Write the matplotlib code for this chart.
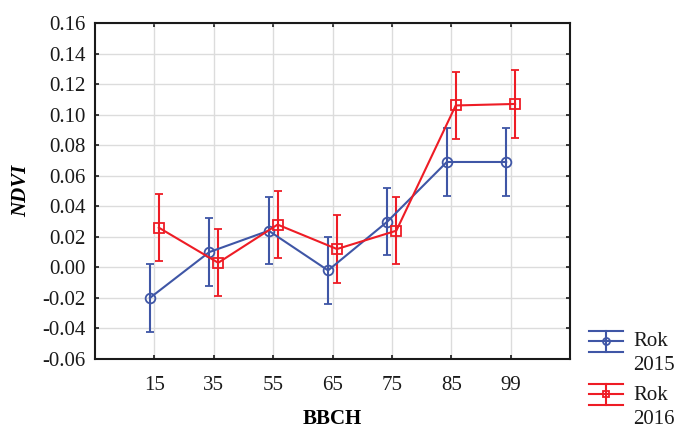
import matplotlib
matplotlib.use("Agg")
import matplotlib.pyplot as plt
from matplotlib.lines import Line2D
import numpy as np

plt.rcParams['font.family'] = ['Liberation Serif', 'DejaVu Serif']

categories = ["15", "35", "55", "65", "75", "85", "99"]
ndvi_2015 = [-0.020, 0.010, 0.024, -0.002, 0.030, 0.069, 0.069]
err_2015 = [0.022, 0.022, 0.022, 0.022, 0.022, 0.022, 0.022]
ndvi_2016 = [0.026, 0.003, 0.028, 0.012, 0.024, 0.106, 0.107]
err_2016 = [0.022, 0.022, 0.022, 0.022, 0.022, 0.022, 0.022]
series_labels = ["Rok\n2015", "Rok\n2016"]
y_ticks = [-0.06, -0.04, -0.02, 0.00, 0.02, 0.04, 0.06, 0.08, 0.10, 0.12, 0.14, 0.16]

blue = "#3f56a6"
red = "#ee1c25"

fig = plt.figure(figsize=(6.78, 4.29), dpi=100)
ax = fig.add_axes([95/678, 1-359/429, 475/678, 336/429])

x = np.arange(1, len(categories) + 1)
off = 0.075
ax.errorbar(x - off, ndvi_2015, yerr=err_2015, color=blue, lw=1.5, marker='o',
            ms=7, mfc='none', mec=blue, mew=1.3, capsize=3, capthick=1.5,
            elinewidth=1.5, zorder=3)
ax.errorbar(x + off, ndvi_2016, yerr=err_2016, color=red, lw=1.5, marker='s',
            ms=7, mfc='none', mec=red, mew=1.3, capsize=3, capthick=1.5,
            elinewidth=1.5, zorder=3)

ax.set_xlim(0, len(categories) + 1)
ax.set_ylim(-0.06, 0.16)
ax.set_xticks(x)
ax.set_xticklabels(categories)
ax.set_yticks(y_ticks)
ax.set_yticklabels([f"{v:.2f}" for v in y_ticks])
ax.grid(True, color="#dcdcdc", lw=1.0, zorder=0)
ax.set_axisbelow(True)
for s in ax.spines.values():
    s.set_linewidth(1.5)
    s.set_color("#1a1a1a")
ax.tick_params(direction='in', length=3, width=1.2, top=True, right=True,
               labelsize=15, colors="#1a1a1a")
ax.tick_params(axis='x', pad=12)
ax.tick_params(axis='y', pad=7)

ax.set_xlabel("BBCH", fontsize=15, fontweight='bold', labelpad=10)
ax.set_ylabel("NDVI", fontsize=15, fontweight='bold', style='italic', labelpad=8)

# manual legend outside the axes
W, H = 678, 429
def fx(px):
    return px / W
def fy(py):
    return 1 - py / H

entries = [(blue, 'o', 341, series_labels[0]), (red, 's', 394, series_labels[1])]
for col, mk, cy, lab in entries:
    for yy in (cy - 10.5, cy, cy + 10.5):
        fig.add_artist(Line2D([fx(589), fx(623)], [fy(yy), fy(yy)], color=col, lw=1.5,
                              transform=fig.transFigure))
    fig.add_artist(Line2D([fx(606), fx(606)], [fy(cy - 10.5), fy(cy + 10.5)], color=col,
                          lw=1.5, transform=fig.transFigure))
    fig.add_artist(Line2D([fx(606)], [fy(cy)], color=col, marker=mk, ms=5, mfc='none',
                          mec=col, mew=1.3, transform=fig.transFigure))
    top, bottom = lab.split("\n")
    fig.text(fx(633), fy(cy + 1), top, fontsize=15, va='center', ha='left', color="#1a1a1a")
    fig.text(fx(633), fy(cy + 25), bottom, fontsize=15, va='center', ha='left', color="#1a1a1a")

fig.savefig("out.png", dpi=100)
